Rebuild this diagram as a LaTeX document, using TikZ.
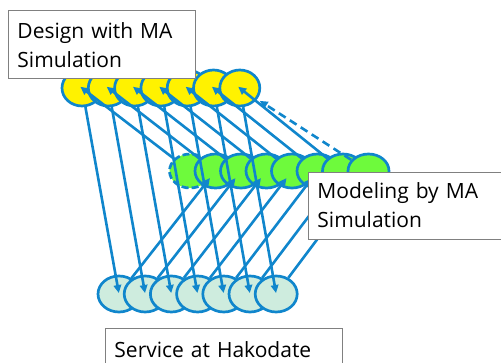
\documentclass[tikz,border=0pt]{standalone}
\usepackage{fontspec}
\setmainfont{Open Sans}
\usetikzlibrary{arrows.meta,shapes.geometric}
\definecolor{lineblue}{RGB}{16,134,204}
\definecolor{ygreen}{RGB}{110,250,60}
\definecolor{mint}{RGB}{206,236,222}
\definecolor{boxgray}{RGB}{128,128,128}
\tikzset{
  circbase/.style={ellipse,inner sep=0pt,draw=lineblue,line width=2.7pt},
  ycirc/.style={circbase,fill=yellow,minimum width=40pt,minimum height=36pt},
  gcirc/.style={circbase,fill=ygreen,minimum width=41pt,minimum height=34pt},
  tcirc/.style={circbase,fill=mint,minimum width=42pt,minimum height=36pt},
  arr/.style={draw=lineblue,line width=2.6pt,-{Triangle[length=8pt,width=7.5pt]}},
  labelbox/.style={draw=boxgray,line width=0.9pt,fill=white,inner ysep=0pt,inner xsep=9pt,
    align=left,font=\fontsize{21pt}{29pt}\selectfont,anchor=north west}
}
\begin{document}
\begin{tikzpicture}[x=1pt,y=-1pt]
\useasboundingbox (0,0) rectangle (501,362);
\clip (0,0) rectangle (501,362);
% yellow (design)
\foreach \i in {1,...,7}
  \node[ycirc] (y\i) at ({82+26.3*(\i-1)},88) {};
% green (modeling)
\node[gcirc,dash pattern=on 7pt off 3pt] (g1) at (190,171) {};
\foreach \i in {2,...,8}
  \node[gcirc] (g\i) at ({190+25.5*(\i-1)},171) {};
% mint (service)
\foreach \i in {1,...,7}
  \node[tcirc] (t\i) at ({119+26.2*(\i-1)},294) {};
% arrows
\foreach \i in {1,...,7}
  \draw[arr,shorten >=1pt] (y\i) -- (t\i.center);
\foreach \i [evaluate=\i as \j using int(\i+1)] in {1,...,7}
  \draw[arr,shorten >=9pt] (t\i) -- (g\j.center);
\foreach \i in {1,...,7}
  \draw[arr,shorten >=-2pt] (g\i) -- (y\i.center);
\draw[arr,dash pattern=on 8pt off 5pt,shorten >=3pt] (g8) -- (y7);
% label boxes
\node[labelbox,text width=169pt,text height=28pt,text depth=40pt] (design) at (8,10)
  {Design with MA\\Simulation};
\node[labelbox,text width=220pt,text height=26pt,text depth=41pt] (model) at (308,172)
  {Modeling by MA\\Simulation};
\node[labelbox,text width=219pt,text height=29pt,text depth=40pt] (service) at (105,328)
  {Service at Hakodate};
\end{tikzpicture}
\end{document}
